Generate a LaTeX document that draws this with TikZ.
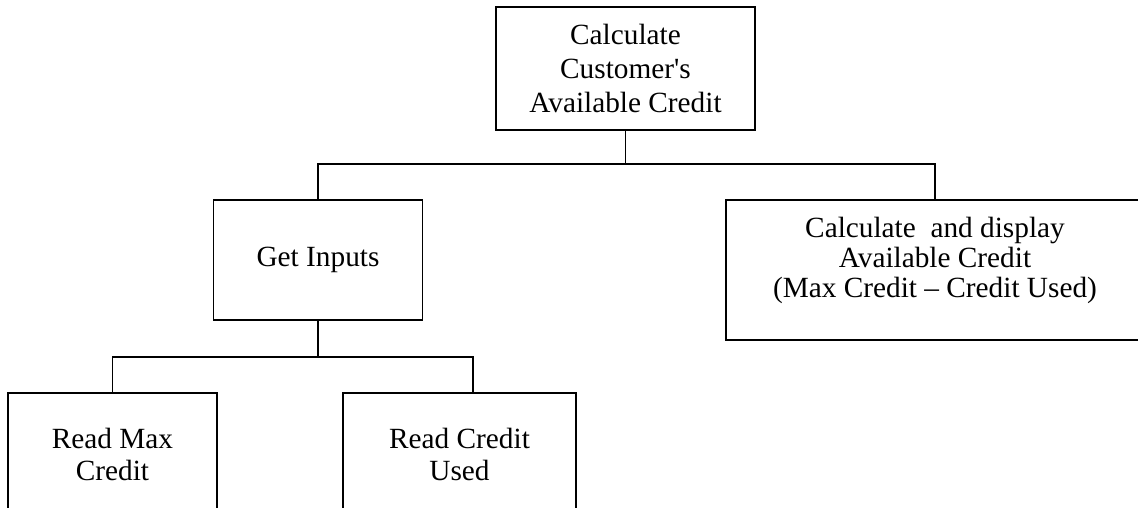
\documentclass[tikz,border=0pt]{standalone}
\usepackage{fontspec}
\setmainfont{Liberation Serif}
\usepackage{tikz}

\begin{document}
\begin{tikzpicture}[x=1pt, y=-1pt,
	% Define a style for the boxes and the connectors
	box style/.style={rectangle, draw=black, line width=1.2pt, align=center, inner sep=0pt,
		font=\fontsize{29.3}{34}\selectfont},
	link/.style={line width=1.6pt, line cap=rect}
	]
	\useasboundingbox (0,0) rectangle (1138,507);
	
	% Place the boxes
	\node[box style, minimum width=259pt, minimum height=123pt] (root) at (625.5,68.5)
		{Calculate\\Customer\textquotesingle s\\Available Credit};
	\node[box style, minimum width=208.5pt, minimum height=120pt] (inputs) at (318,260) {Get Inputs};
	\node[box style, minimum width=418pt, minimum height=140pt] (calc) at (935,270)
		{\raisebox{9pt}[\height][\depth]{\fontsize{29.3}{30}\selectfont
			\begin{tabular}{@{}c@{}}Calculate\ \ and display\\Available Credit\\(Max Credit -- Credit Used)\end{tabular}}};
	\node[box style, minimum width=209pt, minimum height=122pt, font=\fontsize{29.3}{32}\selectfont] (readmax) at (112.5,454)
		{Read Max\\Credit};
	\node[box style, minimum width=233pt, minimum height=122pt, font=\fontsize{29.3}{32}\selectfont] (readused) at (459.5,454)
		{Read Credit\\Used};
	
	% --- Draw the connectors ---
	\coordinate (bus1) at (625.5,164);
	\coordinate (bus2) at (318,357);
	\coordinate (usedtop) at (473,393);
	\draw[link] (root.south) -- (bus1);
	\draw[link] (inputs.north) |- (bus1) -| (calc.north);
	\draw[link] (inputs.south) -- (bus2);
	\draw[link] (readmax.north) |- (bus2) -| (usedtop);
\end{tikzpicture}
\end{document}
